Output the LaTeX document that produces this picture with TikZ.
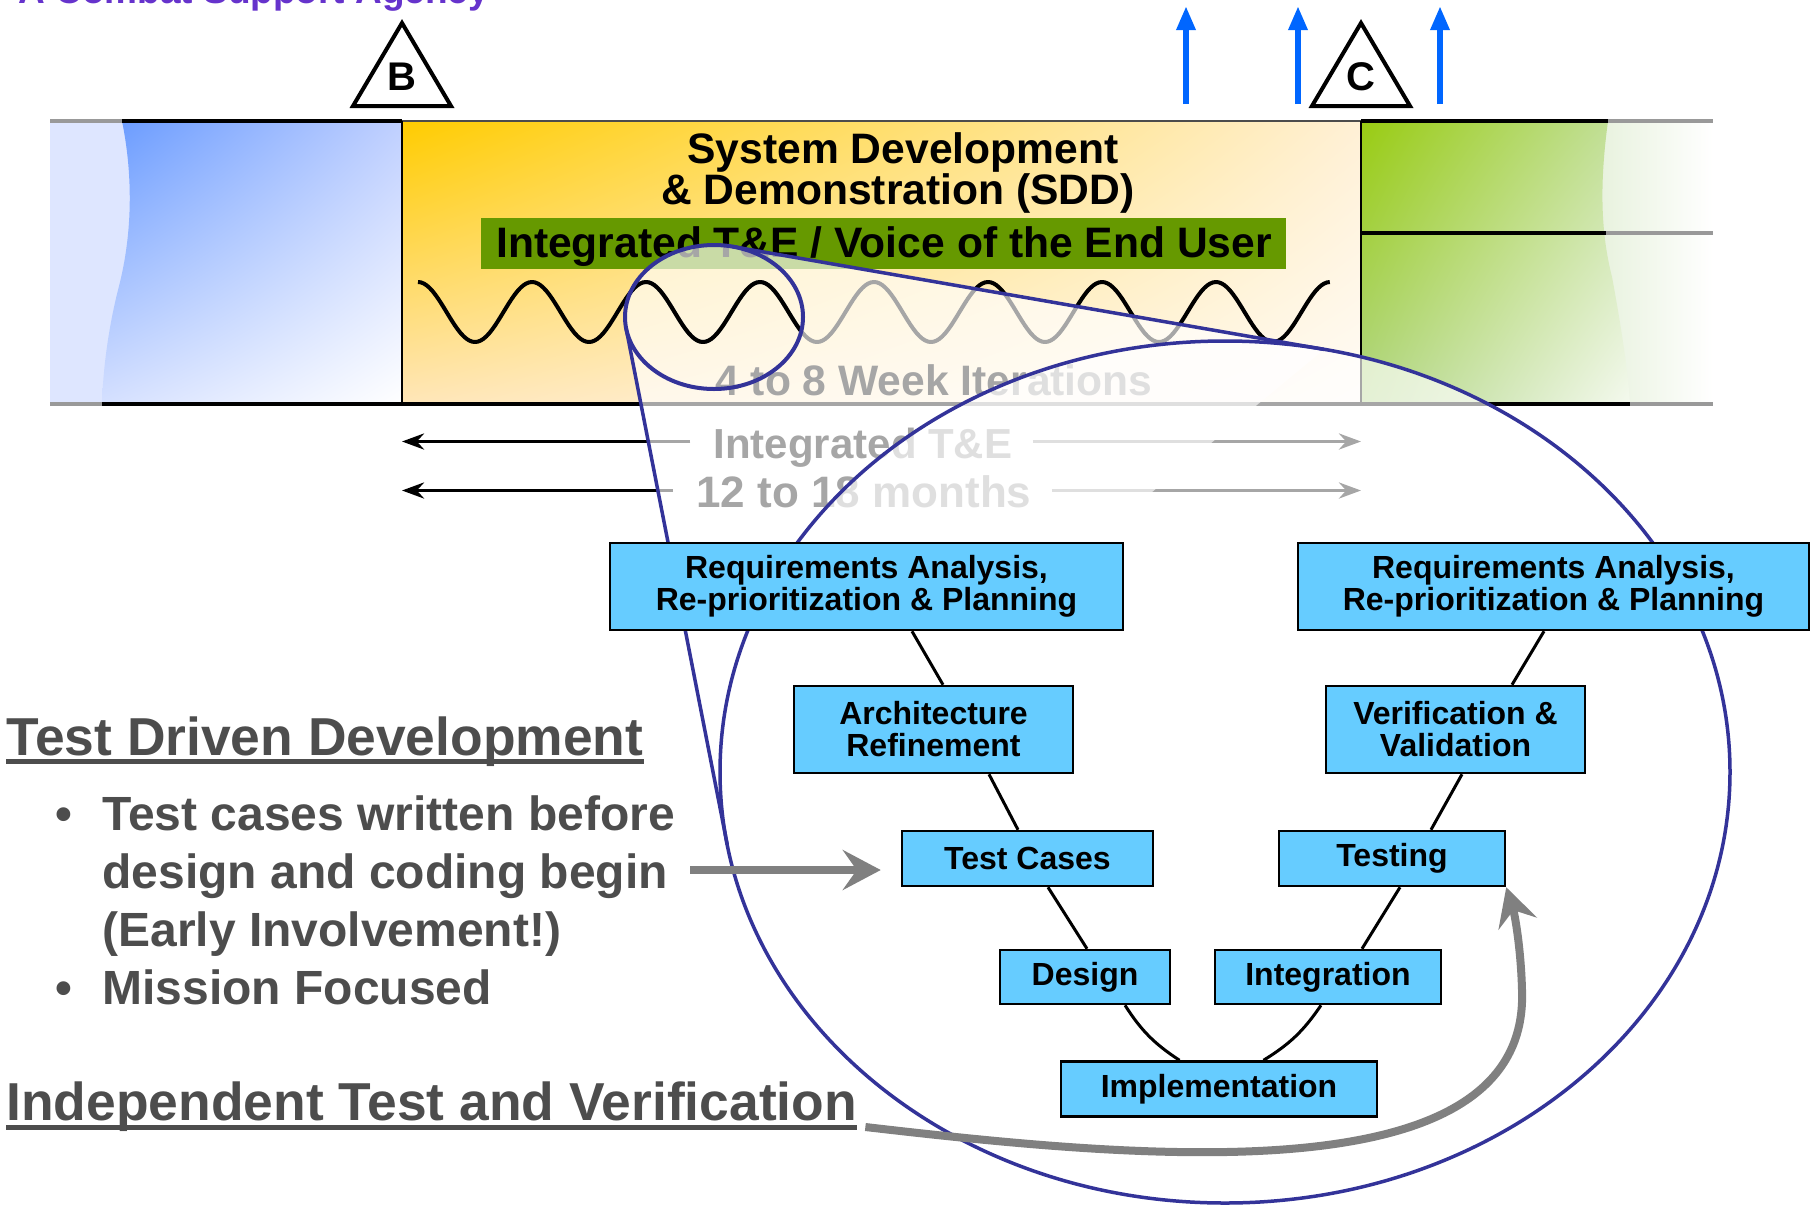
\documentclass[tikz,border=0pt]{standalone}
\usepackage{fontspec}
\setmainfont{Liberation Sans}
\usetikzlibrary{arrows.meta,calc,shadings}

\definecolor{agencypurple}{RGB}{102,51,204}
\definecolor{phaseblue}{RGB}{102,153,255}
\definecolor{blueUR}{RGB}{192,208,255}
\definecolor{blueLL}{RGB}{213,224,255}
\definecolor{bluestrip}{RGB}{222,230,255}
\definecolor{phaseyellow}{RGB}{255,204,0}
\definecolor{yelUR}{RGB}{255,240,214}
\definecolor{yelLL}{RGB}{255,230,185}
\definecolor{yelLR}{RGB}{255,252,246}
\definecolor{phasegreen}{RGB}{153,204,17}
\definecolor{grnUR}{RGB}{196,224,160}
\definecolor{grnLL}{RGB}{178,214,135}
\definecolor{grnLR}{RGB}{244,249,238}
\definecolor{greenstrip}{RGB}{232,242,222}
\definecolor{bannergreen}{RGB}{102,153,0}
\definecolor{stepcyan}{RGB}{102,204,255}
\definecolor{lensblue}{RGB}{51,51,153}
\definecolor{upblue}{RGB}{0,102,255}
\definecolor{notegrey}{RGB}{77,77,77}
\definecolor{pointergrey}{RGB}{128,128,128}

\tikzset{
  stepbox/.style={draw=black, line width=1.25pt, fill=stepcyan, align=center,
    inner sep=0pt, font=\bfseries\fontsize{16}{16}\selectfont},
  steplink/.style={line width=1.5pt},
  lensline/.style={draw=lensblue, line width=1.75pt},
  pointer/.style={draw=pointergrey, line width=4pt,
    -{Stealth[length=19pt,width=20pt,inset=7pt]}},
  milestone/.style={draw=black, line width=2pt, fill=white, line join=miter},
  spanline/.style={line width=1.85pt, -{Stealth[length=11pt,width=8pt]}},
  wavy/.style={line width=2pt, line join=round},
  barlabel/.style={anchor=base, inner sep=0pt, font=\bfseries\fontsize{21.3}{21}\selectfont},
  spanlabel/.style={inner sep=0pt, text height=16.5pt, text depth=0pt,
    font=\bfseries\fontsize{21}{21}\selectfont},
  heading/.style={text=notegrey, anchor=base west, inner sep=0pt,
    font=\bfseries\fontsize{26.7}{30}\selectfont},
  bullettext/.style={text=notegrey, anchor=base west, inner sep=0pt,
    font=\bfseries\fontsize{24}{29}\selectfont},
}

\begin{document}
\begin{tikzpicture}[x=0.5pt, y=-0.5pt]
\useasboundingbox (0,0) rectangle (1815,1205);

\node[anchor=base west, inner sep=0pt, text=agencypurple,
  font=\bfseries\fontsize{18.5}{18}\selectfont] (agency) at (18,3) {A Combat Support Agency};

% phase bar
\fill[bluestrip] (50,121) rectangle (130,404);
\shade[upper left=phaseblue, upper right=blueUR, lower left=blueLL, lower right=white]
  (122,121) .. controls (132,170) and (134,230) .. (118,290)
  .. controls (108,330) and (103,370) .. (102,404) -- (402,404) -- (402,121) -- cycle;
\shade[upper left=phaseyellow, upper right=yelUR, lower left=yelLL, lower right=yelLR]
  (402,121) rectangle (1361,404);
\shade[left color=greenstrip, right color=white] (1600,121) rectangle (1713,404);
\shade[upper left=phasegreen, upper right=grnUR, lower left=grnLL, lower right=grnLR]
  (1361,121) -- (1608,121) .. controls (1600,180) and (1600,230) .. (1612,277)
  .. controls (1620,320) and (1628,370) .. (1630,404) -- (1361,404) -- cycle;

\coordinate (sddL) at (402,0);
\coordinate (sddR) at (1361,0);
\draw[line width=2pt] (122,121) -- (402,121);
\draw[line width=1.25pt, black!70] (402,121) -- (1361,121);
\draw[line width=2pt] (1361,121) -- (1608,121);
\draw[line width=2pt] (1361,233) -- (1606,233);
\draw[line width=2pt] (102,404) -- (402,404);
\draw[line width=1.75pt] (402,404) -- (1630,404);
\draw[line width=1pt] (402,121) -- (402,404);
\draw[line width=1pt] (1361,121) -- (1361,404);
\draw[black!40, line width=2pt] (50,121) -- (122,121) (50,404) -- (102,404);
\draw[black!40, line width=2pt] (1608,121) -- (1713,121) (1606,233) -- (1713,233)
  (1630,404) -- (1713,404);

\node[barlabel] (sddA) at (903,163) {System Development};
\node[barlabel] (sddB) at (898,204) {\& Demonstration (SDD)};
\fill[bannergreen] (481,218) rectangle (1286,269);
\node[barlabel] (voice) at (884,257) {Integrated T\&E / Voice of the End User};

\draw[wavy] plot[variable=\t, domain=0:8, samples=321] ({418+114*\t}, {312-30*cos(360*\t)});
\node[barlabel] (iter) at (934,395) {4 to 8 Week Iterations};

\node[spanlabel] (ite) at (863,441.5) {Integrated T\&E};
\node[spanlabel, font=\bfseries\fontsize{22}{22}\selectfont] (dur) at (864,490.5) {12 to 18 months};
\draw[spanline] ([xshift=-11.5pt]ite.west) -- (ite.west -| sddL);
\draw[spanline] ([xshift=10pt]ite.east) -- (ite.east -| sddR);
\draw[spanline] ([xshift=-11.5pt]dur.west) -- (dur.west -| sddL);
\draw[spanline] ([xshift=10pt]dur.east) -- (dur.east -| sddR);

% magnifier
\coordinate (lensc) at (714,317);
\coordinate (bigc) at (1225,772);
\coordinate (t1s) at ($(lensc)+(-78:89 and 72)$);
\coordinate (t2s) at ($(lensc)+(170.8:89 and 72)$);
\coordinate (t1b) at ($(bigc)+(-78.7:505 and 431)$);
\coordinate (t2b) at ($(bigc)+(170.3:505 and 431)$);
\fill[white, opacity=0.65] (t1s) -- (t1b) -- (t2b) -- (t2s)
  arc[start angle=170.8, end angle=282, x radius=89, y radius=72] -- cycle;
\fill[white, opacity=0.65] (bigc) ellipse[x radius=505, y radius=431];
\begin{scope}
  \clip (lensc) ellipse[x radius=89, y radius=72];
  \draw[wavy] plot[variable=\t, domain=0:8, samples=321] ({418+114*\t}, {312-30*cos(360*\t)});
\end{scope}
\draw[lensline, line width=2pt] (lensc) ellipse[x radius=89, y radius=72];
\draw[lensline] (t1s) -- (t1b) (t2s) -- (t2b);
\draw[lensline] (bigc) ellipse[x radius=505, y radius=431];

% milestones
\draw[milestone] (353,106) -- (402,23) -- (451,106) -- cycle;
\node[font=\bfseries\fontsize{20}{20}\selectfont, anchor=base, inner sep=0pt] (msB) at (402,90) {B};
\draw[milestone] (1312,106) -- (1361,23) -- (1410,106) -- cycle;
\node[font=\bfseries\fontsize{20}{20}\selectfont, anchor=base, inner sep=0pt] (msC) at (1361,90) {C};
\foreach \x in {1186,1298,1440}
  \draw[upblue, line width=3pt, -{Triangle[length=12pt,width=9pt]}] (\x,104) -- (\x,6);

% V model
\node[stepbox, minimum width=256.5pt, minimum height=43.5pt] (reqL) at (866.5,586.5)
  {Requirements Analysis,\\Re-prioritization \& Planning};
\node[stepbox, minimum width=255.5pt, minimum height=43.5pt] (reqR) at (1553.5,586.5)
  {Requirements Analysis,\\Re-prioritization \& Planning};
\node[stepbox, minimum width=139.5pt, minimum height=43.5pt] (arch) at (933.5,729.5)
  {Architecture\\Refinement};
\node[stepbox, minimum width=129.5pt, minimum height=43.5pt] (vv) at (1455.5,729.5)
  {Verification \&\\Validation};
\node[stepbox, minimum width=125.5pt, minimum height=27.5pt] (tc) at (1027.5,858.5) {Test Cases};
\node[stepbox, minimum width=113pt, minimum height=27.5pt] (testing) at (1392,858.5) {Testing};
\node[stepbox, minimum width=85pt, minimum height=27pt] (design) at (1085,977) {Design};
\node[stepbox, minimum width=113pt, minimum height=27pt] (integ) at (1328,977) {Integration};
\node[stepbox, minimum width=158pt, minimum height=27.5pt] (impl) at (1219,1089) {Implementation};

\draw[steplink] ($(reqL.south)+(45.5,0)$) -- ($(arch.north)+(9.5,0)$);
\draw[steplink] ($(arch.south)+(55.5,0)$) -- ($(tc.north)+(-9.5,0)$);
\draw[steplink] ($(tc.south)+(20.5,0)$) -- ($(design.north)+(2,0)$);
\draw[steplink] ($(design.south)+(40,0)$) to[bend right=12] ($(impl.north)+(-39.5,0)$);
\draw[steplink] ($(impl.north)+(44.5,0)$) to[bend right=12] ($(integ.south)+(-7,0)$);
\draw[steplink] ($(integ.north)+(34,0)$) -- ($(testing.south)+(8,0)$);
\draw[steplink] ($(testing.north)+(39,0)$) -- ($(vv.south)+(6.5,0)$);
\draw[steplink] ($(vv.north)+(56.5,0)$) -- ($(reqR.south)+(-9.5,0)$);

% notes
\node[heading] (tdd) at (6,755) {Test Driven Development};
\draw[notegrey, line width=2.5pt] ($(tdd.base west)+(0,6)$) -- ($(tdd.base east)+(0,6)$);
\node[bullettext, anchor=base] (dot1) at (64,830) {•};
\node[bullettext] (bl1) at (102,830) {Test cases written before};
\node[bullettext] (bl2) at (102,888) {design and coding begin};
\node[bullettext] (bl3) at (102,946) {(Early Involvement!)};
\node[bullettext, anchor=base] (dot4) at (64,1004) {•};
\node[bullettext] (bl4) at (102,1004) {Mission Focused};
\node[heading] (itv) at (6,1120) {Independent Test and Verification};
\draw[notegrey, line width=2.5pt] ($(itv.base west)+(0,7)$) -- ($(itv.base east)+(0,7)$);

\draw[pointer] (690,870) -- ($(tc.west)+(-20,11.5)$);
\draw[pointer] ($(itv.base east)+(8,7)$) .. controls (1150,1160) and (1530,1195) .. (1522,990)
  .. controls (1521,950) and (1515,915) .. (testing.south east);
\end{tikzpicture}
\end{document}
